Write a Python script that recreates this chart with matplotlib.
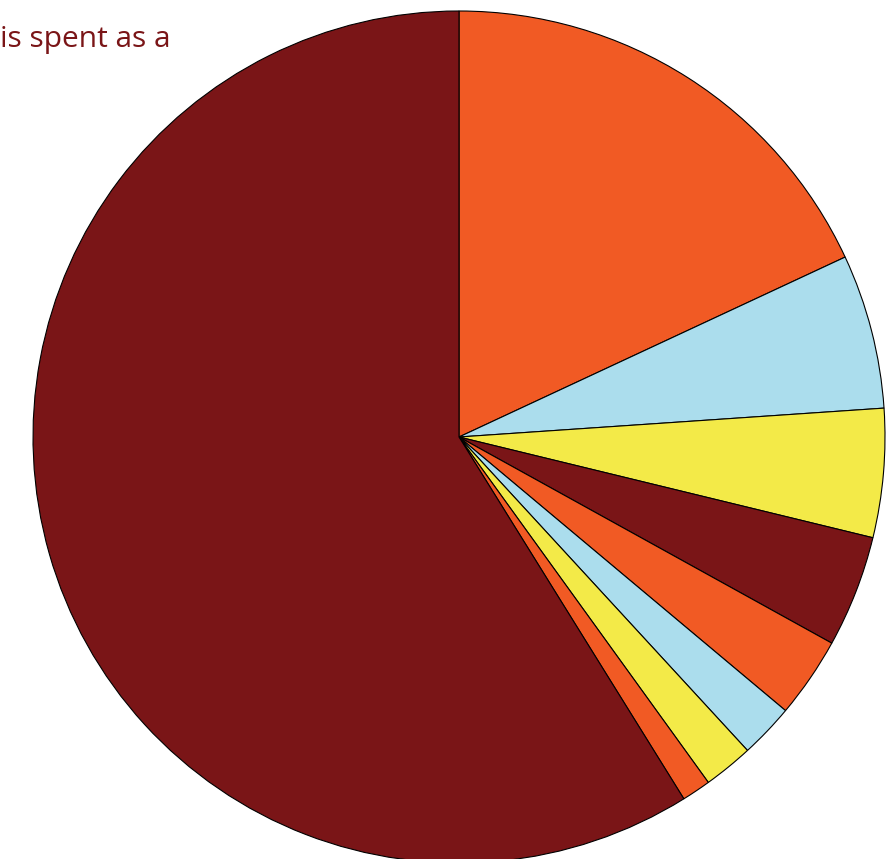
import matplotlib.pyplot as plt

# slice shares (percent), clockwise from 12 o'clock
shares = [18.06, 5.86, 4.88, 4.24, 3.06, 2.06, 1.89, 1.10, 58.85]
colors = ['#F15A24', '#ABDDED', '#F3EA48', '#7A1517', '#F15A24',
          '#ABDDED', '#F3EA48', '#F15A24', '#7A1517']
title_text = 'is spent as a'

fig = plt.figure(figsize=(8.96, 8.59), dpi=100)
W, H = 896, 859
cx, cy, r = 459, 437, 426
ax = fig.add_axes([(cx - r) / W, (H - cy - r) / H, 2 * r / W, 2 * r / H])

ax.pie(shares, colors=colors, startangle=90, counterclock=False,
       wedgeprops=dict(edgecolor='black', linewidth=0.8), radius=1)
ax.set_xlim(-1.0, 1.0)
ax.set_ylim(-1.0, 1.0)
ax.axis('off')

fig.text(171 / W, 1 - 47 / H, title_text, ha='right', va='baseline',
         fontsize=21.5, color='#7A1517', family=['Open Sans', 'DejaVu Sans'])

fig.savefig('out.png', dpi=100)
